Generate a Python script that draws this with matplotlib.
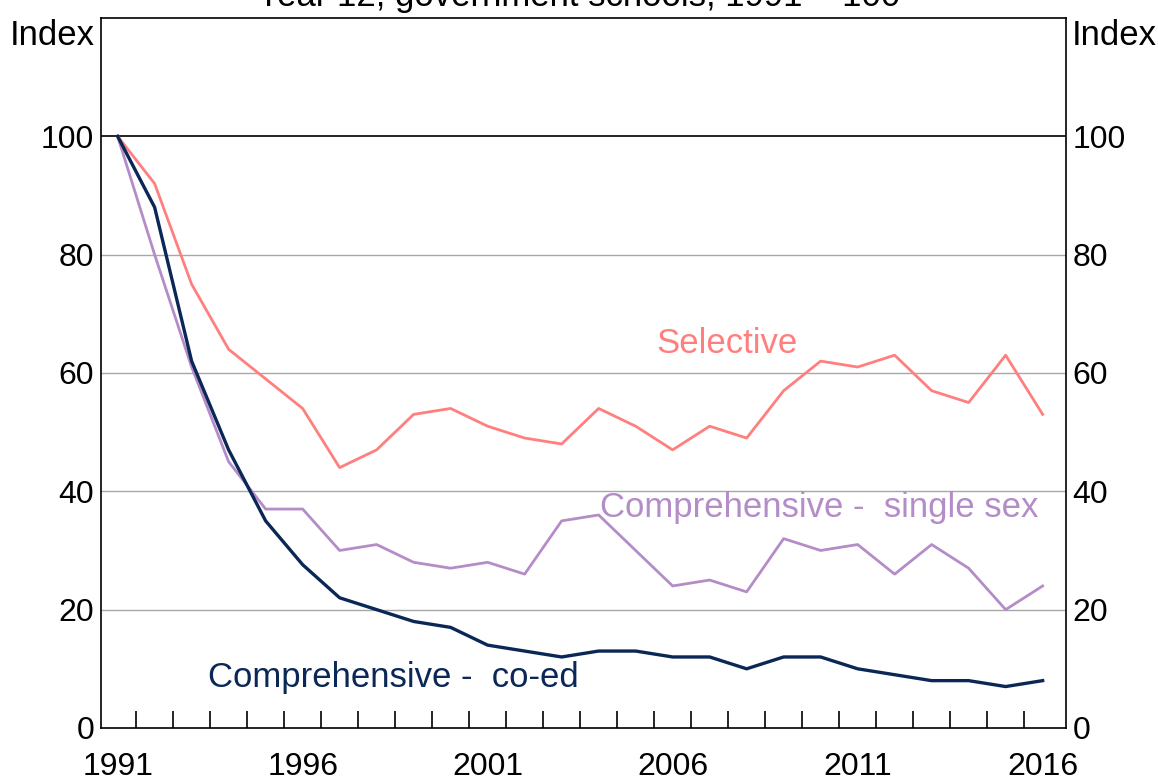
import matplotlib
matplotlib.use("Agg")
import matplotlib.pyplot as plt
import numpy as np

plt.rcParams['font.family'] = ['Liberation Sans', 'DejaVu Sans']

years = np.arange(1991, 2017)
selective = [100, 92, 75, 64, 59, 54, 44, 47, 53, 54, 51, 49, 48, 54, 51, 47,
             51, 49, 57, 62, 61, 63, 57, 55, 63, 53]
single_sex = [100, 80, 61, 45, 37, 37, 30, 31, 28, 27, 28, 26, 35, 36, 30, 24,
              25, 23, 32, 30, 31, 26, 31, 27, 20, 24]
co_ed = [100, 88, 62, 47, 35, 27.6, 22, 20, 18, 17, 14, 13, 12, 13, 13, 12,
         12, 10, 12, 12, 10, 9, 8, 8, 7, 8]

c_sel = '#FF7F7F'
c_single = '#B48CC8'
c_coed = '#0B2756'
tick_size = 23
label_size = 25

fig = plt.figure(figsize=(11.58, 7.8), dpi=100)
ax = fig.add_axes([0.0872, 0.0667, 0.833, 0.9103])

for v in [20, 40, 60, 80]:
    ax.axhline(v, color='#A8A8A8', linewidth=1.0, zorder=1)
ax.axhline(100, color='black', linewidth=1.2, zorder=1)

ax.plot(years, selective, color=c_sel, linewidth=2.0, zorder=3)
ax.plot(years, single_sex, color=c_single, linewidth=2.0, zorder=3)
ax.plot(years, co_ed, color=c_coed, linewidth=2.4, zorder=4)

ax.text(2007.46, 65.0, 'Selective', color=c_sel, fontsize=label_size,
        ha='center', va='center')
ax.text(2004.05, 37.2, 'Comprehensive -  single sex', color=c_single,
        fontsize=label_size, ha='left', va='center')
ax.text(1993.43, 8.6, 'Comprehensive -  co-ed', color=c_coed,
        fontsize=label_size, ha='left', va='center')

ax.set_xlim(1990.55, 2016.62)
ax.set_ylim(0, 120)

ax.set_xticks([1991, 1996, 2001, 2006, 2011, 2016])
ax.set_xticks(np.arange(1991.5, 2016, 1.0), minor=True)
ax.tick_params(axis='x', which='major', length=0, pad=17, labelsize=tick_size)
ax.tick_params(axis='x', which='minor', direction='in', length=12, width=1.2)

ax.set_yticks([0, 20, 40, 60, 80, 100])
ax.tick_params(axis='y', which='both', length=0, pad=5, labelsize=tick_size,
               left=False, right=False, labelleft=True, labelright=True)

for sp in ax.spines.values():
    sp.set_linewidth(1.2)

ax.text(-0.006, 0.975, 'Index', transform=ax.transAxes, fontsize=label_size,
        ha='right', va='center')
ax.text(1.006, 0.975, 'Index', transform=ax.transAxes, fontsize=label_size,
        ha='left', va='center')

fig.text(0.5, 1.004, 'Year 12, government schools, 1991 = 100',
         fontsize=label_size, ha='center', va='center')

fig.savefig('out.png', dpi=100)
